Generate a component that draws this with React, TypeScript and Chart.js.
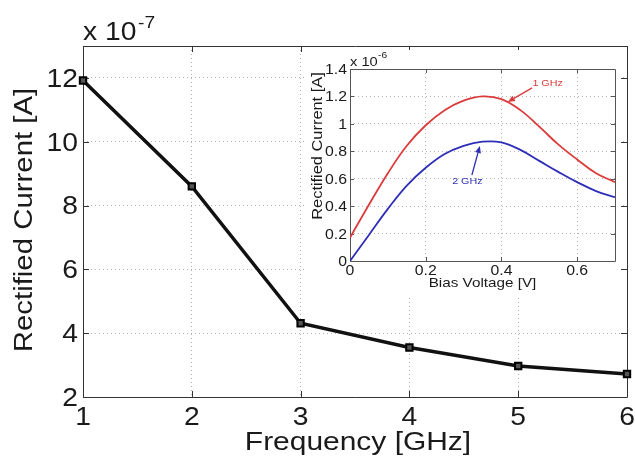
import React, { useEffect, useRef } from "react";
import { Chart, registerables } from "chart.js";

Chart.register(...registerables);

// Main plot: rectified current (x 1e-7 A) vs frequency
const freqGHz = [1, 2, 3, 4, 5, 6];
const rectifiedCurrent = [11.92, 8.6, 4.31, 3.55, 2.97, 2.72];
const mainXTicks = [1, 2, 3, 4, 5, 6];
const mainYTicks = [2, 4, 6, 8, 10, 12];

// Inset: rectified current (x 1e-6 A) vs bias voltage
const biasVoltage = [0, 0.05, 0.1, 0.15, 0.2, 0.25, 0.3, 0.35, 0.4, 0.45, 0.5, 0.55, 0.6, 0.65, 0.7];
const current1GHz = [0.17, 0.41, 0.64, 0.84, 0.99, 1.1, 1.17, 1.2, 1.18, 1.1, 0.98, 0.85, 0.74, 0.64, 0.575];
const current2GHz = [0, 0.19, 0.38, 0.55, 0.68, 0.78, 0.84, 0.87, 0.865, 0.81, 0.73, 0.65, 0.575, 0.51, 0.465];
const insetXTicks = [0, 0.2, 0.4, 0.6];
const insetYTicks = [0, 0.2, 0.4, 0.6, 0.8, 1, 1.2, 1.4];

// Annotations: [label, textX, textY, tailX, tailY, tipX, tipY]
const annot1GHz = ["1 GHz", 0.522, 1.3, 0.481, 1.262, 0.417, 1.16];
const annot2GHz = ["2 GHz", 0.31, 0.59, 0.322, 0.627, 0.343, 0.839];

const FONT = '"Liberation Sans", Arial, Helvetica, sans-serif';
const STRETCH = 1.13;

function drawText(
  ctx: CanvasRenderingContext2D,
  text: string,
  x: number,
  y: number,
  size: number,
  align: CanvasTextAlign,
  color: string,
  rotate = 0
) {
  ctx.save();
  ctx.translate(x, y);
  if (rotate) ctx.rotate(rotate);
  ctx.scale(STRETCH, 1);
  ctx.font = `${size}px ${FONT}`;
  ctx.textAlign = align;
  ctx.textBaseline = "alphabetic";
  ctx.fillStyle = color;
  ctx.fillText(text, 0, 0);
  ctx.restore();
}

function drawFrame(chart: any, xTicks: number[], yTicks: number[], tickLen: number, color: string) {
  const { ctx, chartArea, scales } = chart;
  const { left, right, top, bottom } = chartArea;
  ctx.save();
  ctx.strokeStyle = color;
  ctx.lineWidth = 1;
  ctx.beginPath();
  ctx.rect(Math.round(left) + 0.5, Math.round(top) + 0.5, Math.round(right - left), Math.round(bottom - top));
  for (const t of xTicks) {
    const px = Math.round(scales.x.getPixelForValue(t)) + 0.5;
    ctx.moveTo(px, bottom);
    ctx.lineTo(px, bottom - tickLen);
    ctx.moveTo(px, top);
    ctx.lineTo(px, top + tickLen);
  }
  for (const t of yTicks) {
    const py = Math.round(scales.y.getPixelForValue(t)) + 0.5;
    ctx.moveTo(left, py);
    ctx.lineTo(left + tickLen, py);
    ctx.moveTo(right, py);
    ctx.lineTo(right - tickLen, py);
  }
  ctx.stroke();
  ctx.restore();
}

function drawArrow(chart: any, a: any[], color: string) {
  const { ctx, scales } = chart;
  const [label, tx, ty, x0, y0, x1, y1] = a;
  const px0 = scales.x.getPixelForValue(x0);
  const py0 = scales.y.getPixelForValue(y0);
  const px1 = scales.x.getPixelForValue(x1);
  const py1 = scales.y.getPixelForValue(y1);
  ctx.save();
  ctx.strokeStyle = color;
  ctx.fillStyle = color;
  ctx.lineWidth = 1.3;
  const ang = Math.atan2(py1 - py0, px1 - px0);
  const hl = 7;
  const hw = 3;
  const bx = px1 - hl * Math.cos(ang);
  const by = py1 - hl * Math.sin(ang);
  ctx.beginPath();
  ctx.moveTo(px0, py0);
  ctx.lineTo(bx, by);
  ctx.stroke();
  ctx.beginPath();
  ctx.moveTo(px1, py1);
  ctx.lineTo(bx + hw * Math.sin(ang), by - hw * Math.cos(ang));
  ctx.lineTo(bx - hw * Math.sin(ang), by + hw * Math.cos(ang));
  ctx.closePath();
  ctx.fill();
  ctx.restore();
  drawText(ctx, label, scales.x.getPixelForValue(tx), scales.y.getPixelForValue(ty) + 3.5, 9.5, "center", color);
}

const mainPlugin = {
  id: "mainFrame",
  beforeDatasetsDraw(chart: any) {
    drawFrame(chart, mainXTicks, mainYTicks, 6, "#333");
  },
  afterDraw(chart: any) {
    const { ctx, chartArea, scales } = chart;
    const col = "#1a1a1a";
    const size = 25;
    for (const t of mainYTicks) {
      const py = scales.y.getPixelForValue(t);
      drawText(ctx, String(t), chartArea.left - 5, py + 0.716 * size / 2, size, "right", col);
    }
    for (const t of mainXTicks) {
      const px = scales.x.getPixelForValue(t);
      drawText(ctx, String(t), px, chartArea.bottom + 28, size, "center", col);
    }
    drawText(ctx, "x 10", chartArea.left, 40, size, "left", col);
    drawText(ctx, "-7", chartArea.left + 55, 28, 17, "left", col);
    drawText(ctx, "Frequency [GHz]", (chartArea.left + chartArea.right) / 2 + 3, 450, 26.5, "center", col);
    drawText(ctx, "Rectified Current [A]", 32, 220, 26, "center", col, -Math.PI / 2);
  },
};

const insetPlugin = {
  id: "insetFrame",
  beforeDraw(chart: any) {
    const { ctx, width, height } = chart;
    ctx.save();
    ctx.fillStyle = "#ffffff";
    ctx.fillRect(0, 0, width, height);
    ctx.restore();
  },
  beforeDatasetsDraw(chart: any) {
    drawFrame(chart, insetXTicks, insetYTicks, 4, "#555");
  },
  afterDraw(chart: any) {
    const { ctx, chartArea, scales } = chart;
    const col = "#1a1a1a";
    const size = 14;
    for (const t of insetYTicks) {
      const py = scales.y.getPixelForValue(t);
      drawText(ctx, String(Math.round(t * 10) / 10), chartArea.left - 3, py + 0.716 * size / 2, size, "right", col);
    }
    for (const t of insetXTicks) {
      const px = scales.x.getPixelForValue(t);
      drawText(ctx, String(Math.round(t * 10) / 10), px, chartArea.bottom + 14, size, "center", col);
    }
    drawText(ctx, "x 10", chartArea.left, chartArea.top - 3, 13, "left", col);
    drawText(ctx, "-6", chartArea.left + 28, chartArea.top - 11, 9, "left", col);
    drawText(ctx, "Bias Voltage [V]", (chartArea.left + chartArea.right) / 2, chartArea.bottom + 26, 13.5, "center", col);
    drawText(ctx, "Rectified Current [A]", 17, 96, 14.5, "center", col, -Math.PI / 2);
    drawArrow(chart, annot1GHz, "#d93a3a");
    drawArrow(chart, annot2GHz, "#2f2fb5");
  },
};

function gridOpts() {
  return { color: "#b5b5b5", lineWidth: 1, drawTicks: false };
}

export default function App() {
  const mainRef = useRef<HTMLCanvasElement>(null);
  const insetRef = useRef<HTMLCanvasElement>(null);

  useEffect(() => {
    const main = new Chart(mainRef.current as HTMLCanvasElement, {
      type: "line",
      data: {
        datasets: [
          {
            data: freqGHz.map((x, i) => ({ x, y: rectifiedCurrent[i] })),
            borderColor: "#111111",
            borderWidth: 3.5,
            pointStyle: "rect",
            pointRadius: 4.5,
            pointBorderWidth: 2,
            pointBackgroundColor: "#555555",
            pointBorderColor: "#000000",
            tension: 0,
            clip: false,
          } as any,
        ],
      },
      options: {
        animation: false,
        responsive: false,
        devicePixelRatio: 1,
        layout: { padding: { top: 46, right: 8, left: 0, bottom: 0 } },
        plugins: { legend: { display: false }, tooltip: { enabled: false } },
        scales: {
          x: {
            type: "linear",
            min: 1,
            max: 6,
            ticks: { display: false, stepSize: 1, includeBounds: false },
            grid: gridOpts(),
            border: { display: false, dash: [1, 3] },
            afterFit: (s: any) => {
              s.height = 65;
            },
          },
          y: {
            type: "linear",
            min: 2,
            max: 13,
            ticks: { display: false, stepSize: 2, includeBounds: false },
            grid: gridOpts(),
            border: { display: false, dash: [1, 3] },
            afterFit: (s: any) => {
              s.width = 83;
            },
          },
        },
      } as any,
      plugins: [mainPlugin],
    });

    const inset = new Chart(insetRef.current as HTMLCanvasElement, {
      type: "line",
      data: {
        datasets: [
          {
            data: biasVoltage.map((x, i) => ({ x, y: current1GHz[i] })),
            borderColor: "#dc3b3b",
            borderWidth: 1.8,
            pointRadius: 0,
            tension: 0.4,
          },
          {
            data: biasVoltage.map((x, i) => ({ x, y: current2GHz[i] })),
            borderColor: "#2e2eb8",
            borderWidth: 1.8,
            pointRadius: 0,
            tension: 0.4,
          },
        ],
      },
      options: {
        animation: false,
        responsive: false,
        devicePixelRatio: 1,
        layout: { padding: { top: 19, right: 5, left: 0, bottom: 0 } },
        plugins: { legend: { display: false }, tooltip: { enabled: false } },
        scales: {
          x: {
            type: "linear",
            min: 0,
            max: 0.7,
            ticks: { display: false, stepSize: 0.2, includeBounds: false },
            grid: gridOpts(),
            border: { display: false, dash: [1, 3] },
            afterFit: (s: any) => {
              s.height = 37;
            },
          },
          y: {
            type: "linear",
            min: 0,
            max: 1.4,
            ticks: { display: false, stepSize: 0.2, includeBounds: false },
            grid: gridOpts(),
            border: { display: false, dash: [1, 3] },
            afterFit: (s: any) => {
              s.width = 45;
            },
          },
        },
      } as any,
      plugins: [insetPlugin],
    });

    return () => {
      main.destroy();
      inset.destroy();
    };
  }, []);

  return (
    <div style={{ position: "absolute", left: 0, top: 0, width: 635, height: 462, background: "#fff" }}>
      <canvas ref={mainRef} width={635} height={462} style={{ position: "absolute", left: 0, top: 0 }} />
      <canvas ref={insetRef} width={315} height={248} style={{ position: "absolute", left: 305, top: 50 }} />
    </div>
  );
}
